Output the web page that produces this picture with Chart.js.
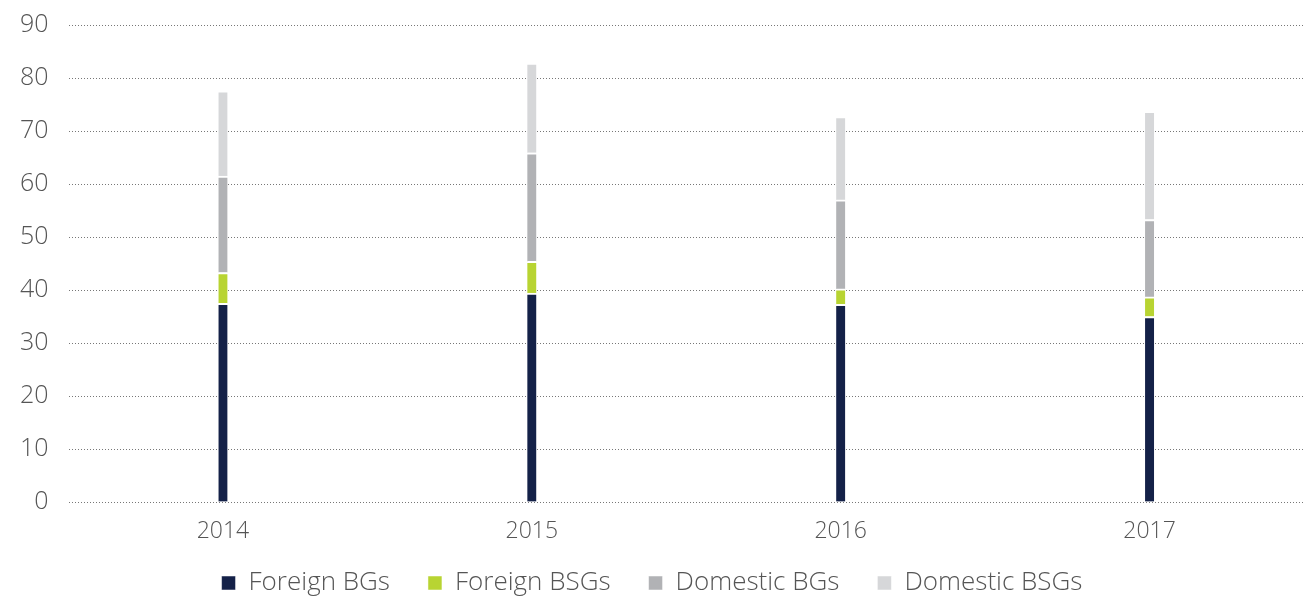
<!DOCTYPE html>
<html lang="en">
<head>
    <meta charset="UTF-8">
    <title>BGs and BSGs</title>
    <script src="https://cdn.jsdelivr.net/npm/chart.js"></script>
    <style>
        html, body { margin: 0; padding: 0; background: #fff; }
        #wrap { width: 1304px; height: 596px; }
    </style>
</head>
<body>
<div id="wrap"><canvas id="chart" width="1304" height="596"></canvas></div>

<script>
    const years = ['2014', '2015', '2016', '2017'];
    const foreignBGs = [37.5, 39.4, 37.3, 35.0];
    const foreignBSGs = [5.8, 6.0, 2.9, 3.7];
    const domesticBGs = [18.2, 20.5, 16.8, 14.6];
    const domesticBSGs = [16.1, 16.9, 15.7, 20.4];
    const yTicks = [0, 10, 20, 30, 40, 50, 60, 70, 80, 90];

    const font = 'Open Sans';
    const textColor = '#555';

    const seg = (label, data, color) => ({
        label: label,
        data: data,
        backgroundColor: color,
        borderColor: '#fff',
        borderWidth: { top: 2, bottom: 0, left: 0, right: 0 },
        borderSkipped: 'start',
        barThickness: 9
    });

    // wide gaps between legend items, but the legend row sits low near the bottom edge
    const tightLegend = {
        id: 'tightLegend',
        beforeLayout(chart) {
            const legend = chart.legend;
            if (!legend || legend._tight) return;
            const fit = legend.fit.bind(legend);
            legend.fit = function () {
                fit();
                this.height -= 22;
            };
            const draw = legend.draw.bind(legend);
            legend.draw = function () {
                const top = this.top;
                this.top = top - 12;
                draw();
                this.top = top;
            };
            legend._tight = true;
        }
    };

    new Chart(document.getElementById('chart'), {
        type: 'bar',
        data: {
            labels: years,
            datasets: [
                seg('Foreign BGs', foreignBGs, '#142148'),
                seg('Foreign BSGs', foreignBSGs, '#b8d432'),
                seg('Domestic BGs', domesticBGs, '#b1b2b5'),
                seg('Domestic BSGs', domesticBSGs, '#d6d7d9')
            ]
        },
        plugins: [tightLegend],
        options: {
            responsive: false,
            animation: false,
            plugins: {
                legend: {
                    position: 'bottom',
                    labels: {
                        color: textColor,
                        font: { family: font, size: 26, weight: 300 },
                        boxWidth: 14,
                        boxHeight: 14,
                        padding: 38
                    }
                },
                tooltip: { enabled: false }
            },
            scales: {
                x: {
                    stacked: true,
                    grid: { display: false },
                    border: { display: false },
                    ticks: {
                        color: textColor,
                        font: { family: font, size: 23, weight: 300 },
                        padding: 8
                    },
                    afterFit: axis => { axis.height = 42; }
                },
                y: {
                    stacked: true,
                    min: 0,
                    max: 90,
                    afterBuildTicks: axis => { axis.ticks = yTicks.map(v => ({ value: v })); },
                    afterFit: axis => { axis.paddingTop = 25; },
                    grid: { color: '#777', lineWidth: 1, drawTicks: false },
                    border: { display: false, dash: [1, 2] },
                    ticks: {
                        color: textColor,
                        font: { family: font, size: 25, weight: 300 },
                        padding: 20
                    }
                }
            }
        }
    });
</script>
</body>
</html>
